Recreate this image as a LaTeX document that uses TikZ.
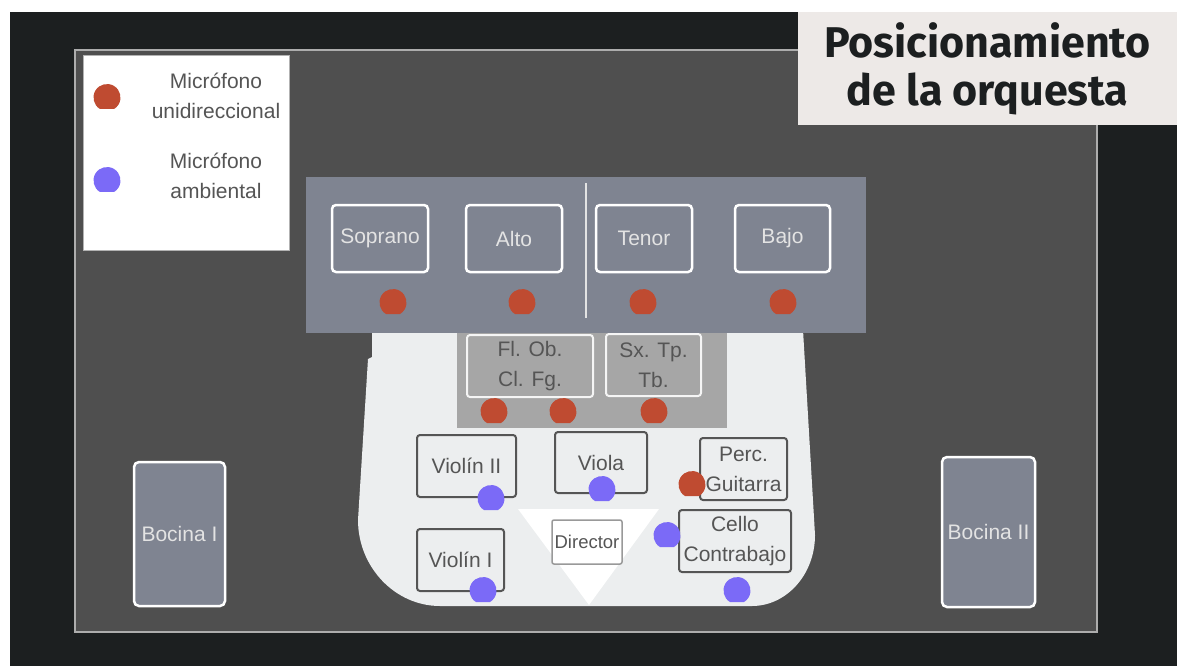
\documentclass[tikz,border=0pt]{standalone}
\usepackage{fontspec}
\setmainfont{Liberation Sans}
\newfontfamily\titlefont{Fira Sans}
\definecolor{frame}{HTML}{1C1F20}
\definecolor{stage}{HTML}{4F4F4F}
\definecolor{stageedge}{HTML}{ADADAD}
\definecolor{riser}{HTML}{7F8491}
\definecolor{floorc}{HTML}{ECEEEF}
\definecolor{wood}{HTML}{A6A6A6}
\definecolor{micred}{HTML}{BF4B31}
\definecolor{micblue}{HTML}{7B6AF7}
\definecolor{lighttext}{HTML}{E3E3E3}
\definecolor{darktext}{HTML}{555555}
\definecolor{titlebg}{HTML}{EDE9E7}
% microphone marker: a disc with its bottom cut flat, given by its centre
\newcommand{\micdot}[3]{\fill[#1] (#2,#3) ++(121.6:13.5) arc[start angle=121.6,end angle=418.4,radius=13.5] -- cycle;}
\begin{document}
\begin{tikzpicture}[x=1pt,y=-1pt,
  lbl/.style={font=\fontsize{21}{30}\selectfont, align=center, inner sep=0pt},
  voicebox/.style={lbl, draw=white, line width=2.5pt, rounded corners=4pt, text=lighttext},
  speaker/.style={voicebox, rounded corners=5pt, fill=riser},
  section/.style={lbl, draw=darktext, line width=2pt, rounded corners=3pt, fill=floorc, text=darktext},
  windbox/.style={lbl, draw=white!92!gray, line width=2pt, rounded corners=3pt, fill=wood, text=darktext},
  legendtext/.style={lbl, text=darktext}]
\useasboundingbox (0,0) rectangle (1177,666);
% page and surround
\fill[white] (0,0) rectangle (1177,666);
\fill[frame] (10,12) rectangle (1177,666);
% stage
\filldraw[fill=stage, draw=stageedge, line width=2pt] (75,50) rectangle (1097,632);
% orchestra floor
\fill[floorc] (372,330) -- (372,357) -- (368,359) -- (358,520)
  .. controls (358,567) and (395,606) .. (440,606) -- (752,606)
  .. controls (786,606) and (815,575) .. (815,535) -- (803,330) -- cycle;
% woodwind / brass riser
\fill[wood] (457,330) rectangle (727,428);
% choir risers
\fill[riser] (306,177) rectangle (866,333);
\draw[white!78!gray, line width=2pt] (586,183) -- (586,318);
% conductor's triangle
\fill[white] (518,509) -- (659,509) -- (589,605) -- cycle;
% title
\fill[titlebg] (798,12) rectangle (1177,125);
\node[anchor=base, font=\titlefont\bfseries\fontsize{43}{52}\selectfont, text=frame, inner sep=0pt] (title1) at (987.5,58) {Posicionamiento};
\node[anchor=base, font=\titlefont\bfseries\fontsize{43}{52}\selectfont, text=frame, inner sep=0pt] (title2) at (987.5,106) {de la orquesta};
% legend
\filldraw[fill=white, draw=gray!60, line width=1pt] (83,56) rectangle (289,250);
\node[legendtext] (leguni) at (216,96) {Micrófono\\unidireccional};
\node[legendtext] (legamb) at (216,176) {Micrófono\\ambiental};
\micdot{micred}{107}{97.5}
\micdot{micblue}{107}{180.5}
% choir sections
\node[voicebox, minimum width=96pt, minimum height=67pt] (soprano) at (380,238.5) {Soprano};
\node[voicebox, minimum width=96pt, minimum height=67pt] (alto) at (514,238.5) {Alto};
\node[voicebox, minimum width=96pt, minimum height=67pt] (tenor) at (644,238.5) {Tenor};
\node[voicebox, minimum width=95pt, minimum height=67pt] (bajo) at (782.5,238.5) {Bajo};
\micdot{micred}{393}{302.5}
\micdot{micred}{522}{302.5}
\micdot{micred}{643}{302.5}
\micdot{micred}{783}{302.5}
% winds
\node[windbox, minimum width=126pt, minimum height=62pt] (wood1) at (530,366) {Fl. Ob.\\Cl. Fg.};
\node[windbox, minimum width=95pt, minimum height=62pt] (brass) at (653.5,365) {Sx. Tp.\\Tb.};
\micdot{micred}{494}{411.5}
\micdot{micred}{563}{411.5}
\micdot{micred}{654}{411.5}
% strings, percussion, conductor
\node[section, minimum width=99pt, minimum height=62pt] (violin2) at (466.5,466) {Violín II};
\node[section, minimum width=92pt, minimum height=61pt] (viola) at (601,462.5) {Viola};
\node[section, minimum width=87pt, minimum height=62pt] (perc) at (743.5,469) {Perc.\\Guitarra};
\node[section, minimum width=112pt, minimum height=62pt] (cello) at (735,541) {Cello\\Contrabajo};
\node[section, minimum width=87pt, minimum height=62pt] (violin1) at (460.5,560) {Violín I};
\node[lbl, draw=gray!80, line width=1.5pt, rounded corners=2pt, fill=white, text=darktext,
  font=\fontsize{18.5}{22}\selectfont, minimum width=70pt, minimum height=44pt] (director) at (587,542) {Director};
\micdot{micblue}{491}{498.5}
\micdot{micblue}{602}{489.5}
\micdot{micred}{692}{484.5}
\micdot{micblue}{667}{535.5}
\micdot{micblue}{483}{590.5}
\micdot{micblue}{737}{590.5}
% loudspeakers
\node[speaker, minimum width=91pt, minimum height=144pt] (bocina1) at (179.5,534) {Bocina I};
\node[speaker, minimum width=93pt, minimum height=150pt] (bocina2) at (988.5,532) {Bocina II};
\end{tikzpicture}
\end{document}
